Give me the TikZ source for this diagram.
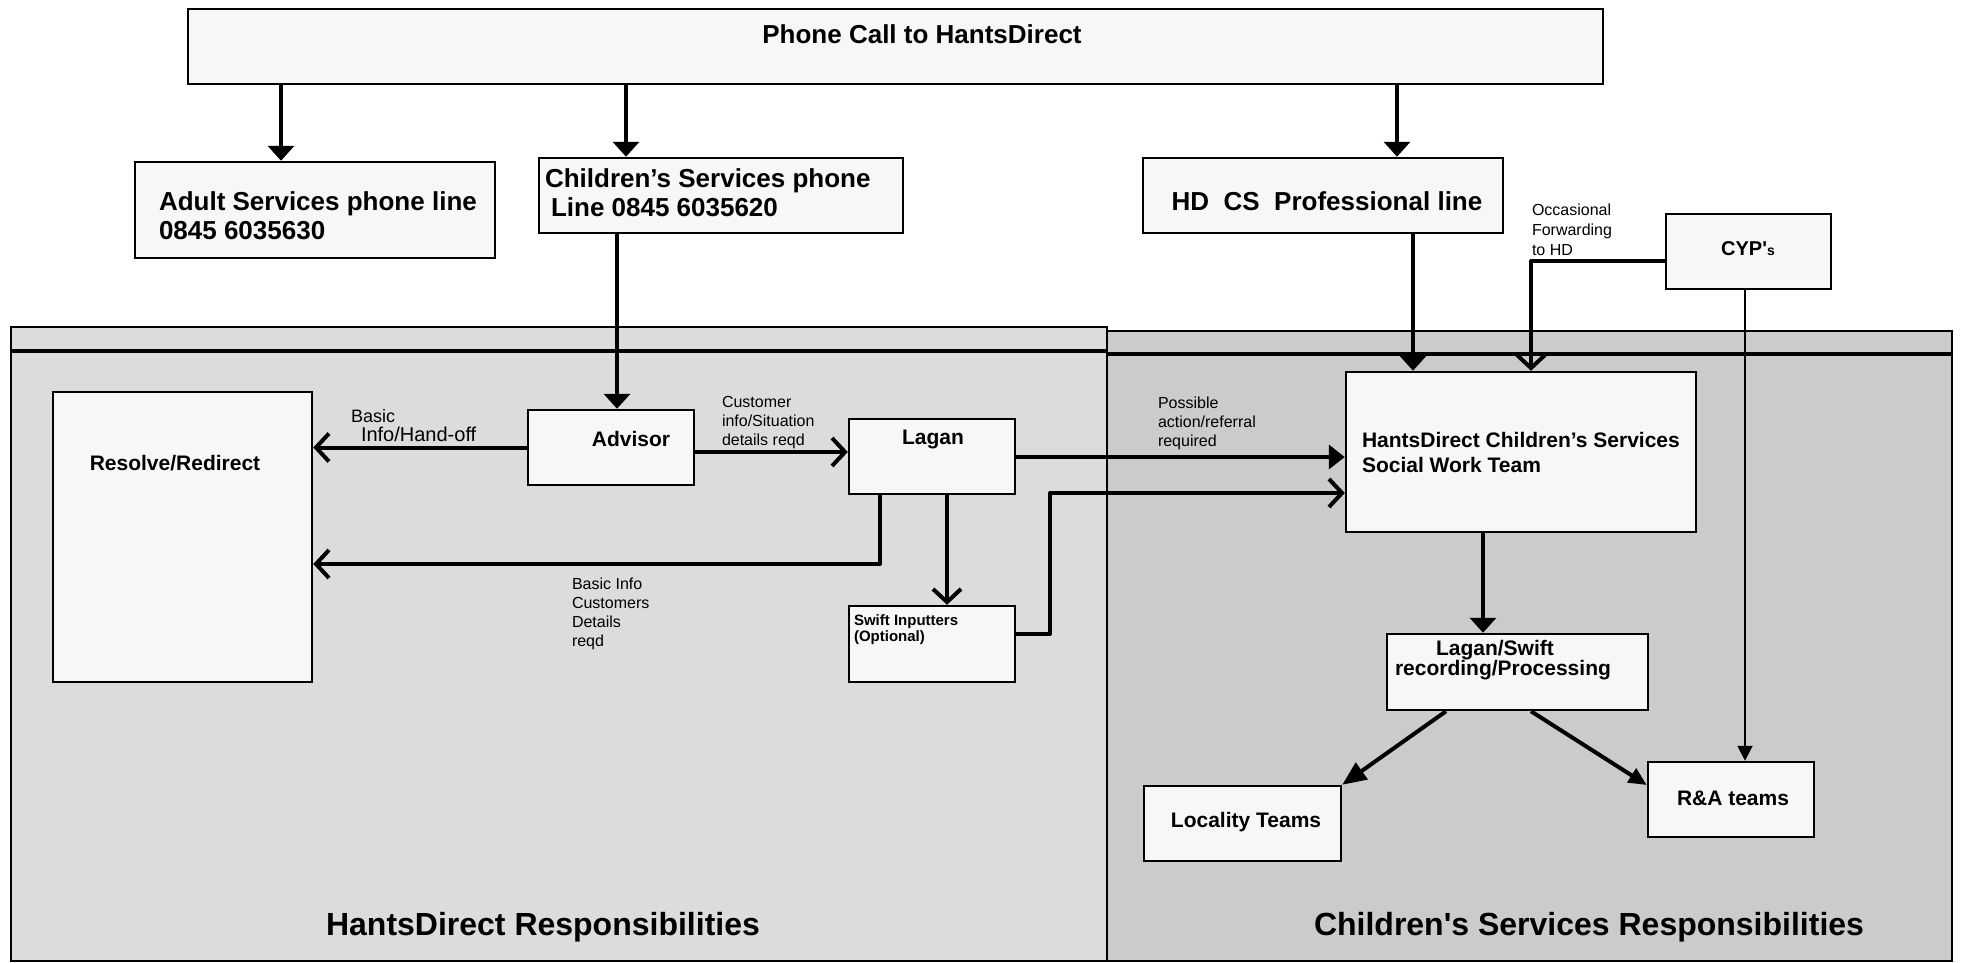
\documentclass[tikz,border=0pt]{standalone}
\usepackage{fontspec}
\setmainfont{Liberation Sans}[Ligatures=TeXOff]
\usetikzlibrary{arrows.meta,calc}
\newcommand\myfs[2]{\fontsize{#1}{#2}\selectfont}
\definecolor{boxfill}{HTML}{F7F7F7}
\definecolor{laneLc}{HTML}{DCDCDC}
\definecolor{laneRc}{HTML}{CBCBCB}
\begin{document}
\begin{tikzpicture}[x=1pt,y=-1pt,
  box/.style={draw=black, fill=boxfill, line width=2.5pt, inner sep=0pt, anchor=center},
  txt/.style={inner sep=0pt, outer sep=0pt},
  conn/.style={line width=4pt, line join=round},
  fa/.style={conn, -{Triangle[length=15pt,width=26pt]}},
  oa/.style={conn, -{Straight Barb[length=13pt,width=28pt]}},
]
\useasboundingbox (0,0) rectangle (1962,962);
% lanes
\fill[laneLc] (11,327) rectangle (1107,961);
\fill[laneRc] (1107,331) rectangle (1952,961);
\draw[line width=2pt] (11,327) rectangle (1107,961);
\draw[line width=2pt] (1107,331) rectangle (1952,961);
\draw[line width=3.5pt] (11,351) -- (1107,351);
\draw[line width=3.5pt] (1107,354) -- (1952,354);
\node[txt, font=\bfseries\myfs{32}{36}] (hdResp) at (543,927) {HantsDirect Responsibilities};
\node[txt, font=\bfseries\myfs{32}{36}] (csResp) at (1589,927) {Children's Services Responsibilities};

% boxes
\node[box, minimum width=1415pt, minimum height=75pt] (top) at (895.5,46.5) {};
\node[box, minimum width=360pt, minimum height=96pt] (adult) at (315,210) {};
\node[box, minimum width=364pt, minimum height=75pt] (child) at (721,195.5) {};
\node[box, minimum width=360pt, minimum height=75pt] (hdcs) at (1323,195.5) {};
\node[box, minimum width=165pt, minimum height=75pt] (cyp) at (1748.5,251.5) {};
\node[box, minimum width=259pt, minimum height=290pt] (resolve) at (182.5,537) {};
\node[box, minimum width=166pt, minimum height=75pt] (advisor) at (611,447.5) {};
\node[box, minimum width=166pt, minimum height=75pt] (lagan) at (932,456.5) {};
\node[box, minimum width=166pt, minimum height=76pt] (swift) at (932,644) {};
\node[box, minimum width=350pt, minimum height=160pt] (sw) at (1521,452) {};
\node[box, minimum width=261pt, minimum height=76pt] (ls) at (1517.5,672) {};
\node[box, minimum width=197pt, minimum height=75pt] (loc) at (1242.5,823.5) {};
\node[box, minimum width=166pt, minimum height=75pt] (ra) at (1731,799.5) {};

% box texts
\node[txt, font=\bfseries\myfs{26}{29}] (topT) at (922,34) {Phone Call to HantsDirect};
\node[txt, font=\bfseries\myfs{26}{29}, anchor=west, align=left] (adultT) at (159,216) {Adult Services phone line\\0845 6035630};
\node[txt, font=\bfseries\myfs{26}{29}, anchor=west, align=left] (childT) at (545,192.5) {Children’s Services phone\\\hspace*{6pt}Line 0845 6035620};
\node[txt, font=\bfseries\myfs{26}{29}] (hdcsT) at (1327,201) {HD\ \ CS\ \ Professional line};
\node[txt, font=\bfseries\myfs{20}{24}] (cypT) at (1748,249) {CYP'{\myfs{14}{16}s}};
\node[txt, font=\bfseries\myfs{21}{25}] (resT) at (175,463) {Resolve/Redirect};
\node[txt, font=\bfseries\myfs{21}{25}] (advT) at (631,439) {Advisor};
\node[txt, font=\bfseries\myfs{21}{25}] (lagT) at (933,439) {Lagan};
\node[txt, font=\bfseries\myfs{15}{16}, anchor=west, align=left] (swiftT) at (854,630) {Swift Inputters\\(Optional)};
\node[txt, font=\bfseries\myfs{21}{25}, anchor=west, align=left] (swT) at (1362,452) {HantsDirect Children’s Services\\Social Work Team};
\node[txt, font=\bfseries\myfs{21}{19}, anchor=west, align=left] (lsT) at (1395,660) {\hspace*{41pt}Lagan/Swift\\recording/Processing};
\node[txt, font=\bfseries\myfs{21}{25}] (locT) at (1246,822) {Locality Teams};
\node[txt, font=\bfseries\myfs{21}{25}] (raT) at (1733,798) {R\&A teams};

% labels
\node[txt, font=\myfs{16}{20}, anchor=west, align=left] (occT) at (1532,230) {Occasional\\Forwarding\\to HD};
\node[txt, font=\myfs{18}{20}, anchor=west] (basicT) at (351,416) {Basic};
\node[txt, font=\myfs{20}{22}, anchor=west] (infoT) at (361,434) {Info/Hand-off};
\node[txt, font=\myfs{16}{19}, anchor=west, align=left] (custT) at (722,423) {Customer\\info/Situation\\details reqd};
\node[txt, font=\myfs{16}{19}, anchor=west, align=left] (basic2T) at (572,614) {Basic Info\\Customers\\Details\\reqd};
\node[txt, font=\myfs{16}{19}, anchor=west, align=left] (possT) at (1158,423) {Possible\\action/referral\\required};

% helper coordinates
\coordinate (x281) at (281,0);
\coordinate (x626) at (626,0);
\coordinate (x1397) at (1397,0);
\coordinate (x617) at (617,0);
\coordinate (y452) at (0,452);
\coordinate (k880) at (880,564);
\coordinate (x947) at (947,0);
\coordinate (s1) at (1050,634);
\coordinate (s2) at (1050,493);
\coordinate (y457) at (0,457);
\coordinate (x1413) at (1413,0);
\coordinate (c1) at (1531,261);
\coordinate (x1745) at (1745,0);
\coordinate (x1483) at (1483,0);
\coordinate (l1) at (1446,0);
\coordinate (r1) at (1531,0);
\coordinate (r2) at (0,785);

% connectors
\draw[fa] (top.south -| x281) -- (x281 |- adult.north);
\draw[fa] (top.south -| x626) -- (x626 |- child.north);
\draw[fa] (top.south -| x1397) -- (x1397 |- hdcs.north);
\draw[fa] (child.south -| x617) -- (x617 |- advisor.north);
\draw[oa] (advisor.west) -- (advisor.west -| resolve.east);
\draw[oa] (advisor.east |- y452) -- (lagan.west |- y452);
\draw[oa] (lagan.south -| k880) -- (k880) -- (k880 -| resolve.east);
\draw[oa] (lagan.south -| x947) -- (x947 |- swift.north);
\draw[oa] (swift.east |- s1) -- (s1) -- (s2) -- (s2 -| sw.west);
\draw[conn, -{Triangle[length=16pt,width=24pt]}] (lagan.east |- y457) -- (sw.west |- y457);
\draw[fa] (hdcs.south -| x1413) -- (x1413 |- sw.north);
\draw[oa] (cyp.west |- c1) -- (c1) -- (c1 |- sw.north);
\draw[line width=2pt, -{Triangle[length=15pt,width=15pt]}] (cyp.south -| x1745) -- (x1745 |- ra.north);
\draw[fa] (sw.south -| x1483) -- (x1483 |- ls.north);
\draw[conn, -{Triangle[length=24pt,width=20pt]}] (ls.south -| l1) -- (loc.north east);
\draw[conn, -{Triangle[length=18pt,width=16pt]}] (ls.south -| r1) -- (ra.west |- r2);
\end{tikzpicture}
\end{document}
